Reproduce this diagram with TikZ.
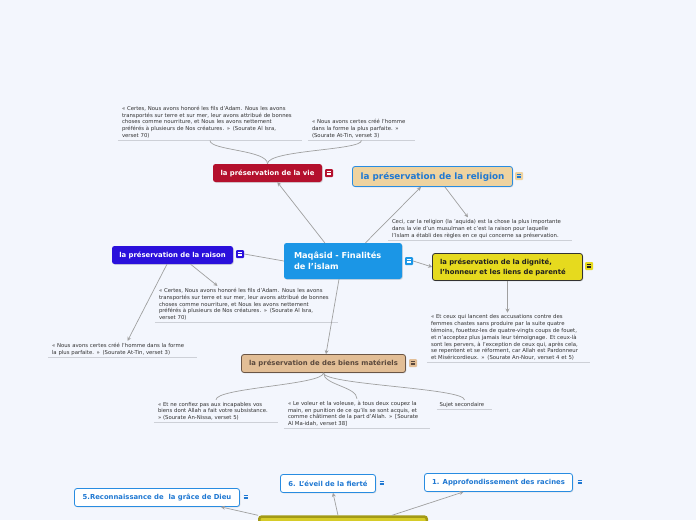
\documentclass[tikz,border=0pt]{standalone}
\usepackage{fontspec}
\setmainfont{DejaVu Sans}
\usetikzlibrary{arrows.meta,shadows}

\definecolor{bgc}{RGB}{243,246,253}
\definecolor{centralc}{RGB}{27,150,230}
\definecolor{viec}{RGB}{180,16,45}
\definecolor{religf}{RGB}{238,211,160}
\definecolor{blued}{RGB}{40,140,225}
\definecolor{bluet}{RGB}{31,120,210}
\definecolor{raisonc}{RGB}{42,16,220}
\definecolor{dignf}{RGB}{230,218,30}
\definecolor{darkc}{RGB}{50,50,50}
\definecolor{darkt}{RGB}{30,30,30}
\definecolor{biensf}{RGB}{226,190,150}
\definecolor{biensd}{RGB}{106,85,69}
\definecolor{bienst}{RGB}{90,72,60}
\definecolor{olivef}{RGB}{214,204,40}
\definecolor{olived}{RGB}{163,154,22}
\definecolor{linkc}{RGB}{160,160,160}
\definecolor{ulinec}{RGB}{205,208,215}
\definecolor{notec}{RGB}{48,48,48}

\tikzset{
  topic/.style={rounded corners=2.5pt, inner sep=0pt, font=\fontsize{6.85}{10}\selectfont\bfseries,
    drop shadow={shadow xshift=0.8pt, shadow yshift=-0.8pt, opacity=0.25}},
  sub/.style={fill=white, draw=blued, line width=0.8pt, text=bluet, minimum height=18pt},
  note/.style={anchor=south, inner xsep=4pt, inner ysep=2pt, align=left,
    font=\fontsize{5.35}{6.8}\selectfont, text=notec},
  link/.style={draw=linkc, line width=0.7pt, -{Stealth[length=4pt,width=4pt]}},
  plain/.style={draw=linkc, line width=0.7pt},
  uline/.style={draw=ulinec, line width=0.8pt},
  icon/.style={minimum size=8pt, inner sep=0pt, rounded corners=1pt},
}

% small menu icon: name, position, fill, line colour
\newcommand{\mnu}[4]{%
  \node[icon, fill=#3] (#1) at (#2) {};
  \foreach \k in {-1.8,0,1.8}
    \draw[#4, line width=0.7pt] ([shift={(-2.3pt,\k pt)}]#1.center) -- ([shift={(2.3pt,\k pt)}]#1.center);
}

\begin{document}
\begin{tikzpicture}[x=1pt,y=-1pt]
\fill[bgc] (0,0) rectangle (696,520);
\useasboundingbox (0,0) rectangle (696,520);

% central topic
\node[topic, fill=centralc, text=white, font=\fontsize{8.2}{11}\selectfont\bfseries,
  minimum height=36pt, text width=98pt, inner xsep=10pt, align=left] (central) at (343,261) {Maqâsid - Finalités\\de l'islam};

% main topics
\node[topic, fill=viec, text=white, minimum width=109pt, minimum height=18pt] (vie) at (267.5,173) {la préservation de la vie};
\node[topic, fill=religf, draw=blued, line width=0.8pt, text=bluet, font=\fontsize{8.8}{11}\selectfont\bfseries,
  minimum width=160pt, minimum height=20pt] (religion) at (432.5,176.5) {la préservation de la religion};
\node[topic, fill=raisonc, text=white, minimum width=121pt, minimum height=18pt] (raison) at (172.5,255) {la préservation de la raison};
\node[topic, fill=dignf, draw=darkc, line width=0.8pt, text=darkt, minimum height=27pt,
  text width=135pt, inner xsep=7.5pt, align=left] (dignite) at (507.5,267) {la préservation de la dignité,\\l'honneur et les liens de parenté};
\node[topic, fill=biensf, draw=biensd, line width=0.8pt, text=bienst, minimum width=164pt, minimum height=18pt] (biens) at (323.5,363.5) {la préservation de des biens matériels};

% bottom topics
\node[topic, fill=olivef, draw=olived, line width=2.5pt, minimum width=167.5pt, minimum height=30pt, anchor=north] (bottomn) at (343,515.3) {};
\node[topic, sub, minimum width=165pt] (reconn) at (157,497.5) {5.Reconnaissance de~ la grâce de Dieu};
\node[topic, sub, minimum width=95pt] (eveil) at (328,483.5) {6. L'éveil de la fierté};
\node[topic, sub, minimum width=148pt] (appro) at (498.5,482.5) {1. Approfondissement des racines};

% menu icons
\mnu{mcentral}{409,261}{centralc}{white}
\mnu{mvie}{329,173}{viec}{white}
\mnu{mreligion}{519,176}{religf}{bluet}
\mnu{mraison}{240,254}{raisonc}{white}
\mnu{mdignite}{589,266}{dignf}{darkt}
\mnu{mbiens}{413,363}{biensf}{bienst}
\mnu{mreconn}{246,497}{bgc}{bluet}
\mnu{meveil}{382,483}{bgc}{bluet}
\mnu{mappro}{580,482}{bgc}{bluet}

% notes
\node[note, text width=176pt] (n1) at (210,140.5) {« Certes, Nous avons honoré les fils d'Adam. Nous les avons\\transportés sur terre et sur mer, leur avons attribué de bonnes\\choses comme nourriture, et Nous les avons nettement\\préférés à plusieurs de Nos créatures. » (Sourate Al Isra,\\verset 70)};
\node[note, text width=99pt] (n2) at (361.5,140.5) {« Nous avons certes créé l'homme\\dans la forme la plus parfaite. »\\(Sourate At-Tin, verset 3)};
\node[note, text width=176pt] (n3) at (480,240.5) {Ceci, car la religion (la 'aquida) est la chose la plus importante\\dans la vie d'un musulman et c'est la raison pour laquelle\\l'Islam a établi des règles en ce qui concerne sa préservation.};
\node[note, text width=175pt] (n4) at (246.5,322.5) {« Certes, Nous avons honoré les fils d'Adam. Nous les avons\\transportés sur terre et sur mer, leur avons attribué de bonnes\\choses comme nourriture, et Nous les avons nettement\\préférés à plusieurs de Nos créatures. » (Sourate Al Isra,\\verset 70)};
\node[note, text width=141pt] (n5) at (122.5,357.5) {« Nous avons certes créé l'homme dans la forme\\la plus parfaite. » (Sourate At-Tin, verset 3)};
\node[note, text width=155pt] (n6) at (508.5,362.5) {« Et ceux qui lancent des accusations contre des\\femmes chastes sans produire par la suite quatre\\témoins, fouettez-les de quatre-vingts coups de fouet,\\et n'acceptez plus jamais leur témoignage. Et ceux-là\\sont les pervers, à l'exception de ceux qui, après cela,\\se repentent et se réforment, car Allah est Pardonneur\\et Miséricordieux. » (Sourate An-Nour, verset 4 et 5)};
\node[note, text width=116pt] (n7) at (216,422.5) {« Et ne confiez pas aux incapables vos\\biens dont Allah a fait votre subsistance.\\» (Sourate An-Nissa, verset 5)};
\node[note, text width=138pt] (n8) at (357,428.5) {« Le voleur et la voleuse, à tous deux coupez la\\main, en punition de ce qu'ils se sont acquis, et\\comme châtiment de la part d'Allah. » [Sourate\\Al Ma-idah, verset 38]};
\node[note, text width=50pt, inner xsep=2.5pt] (n9) at (464.5,409.5) {Sujet secondaire};
\foreach \i in {1,...,9}
  \draw[uline] (n\i.south west) -- (n\i.south east);

% branches from the central topic
\draw[link] (central.135) -- (vie.-43);
\draw[link] (central.39) -- (religion.222);
\draw[plain] (central.west) -- (mraison.east);
\draw[link] (mcentral.east) -- (dignite.west);
\draw[link] ([xshift=-4pt]central.south) -- ([xshift=2.5pt]biens.north);

% notes of the topics
\draw[plain] (vie.north) .. controls +(0,-14) and +(0,10) .. (n1.south);
\draw[plain] (vie.north) .. controls +(0,-14) and +(0,10) .. (n2.south);
\draw[link] (religion.-40) -- ([xshift=-12pt]n3.north);
\draw[link] (raison.-27) -- ([xshift=-29pt]n4.north);
\draw[link] (raison.-121) -- ([xshift=5pt]n5.north);
\draw[link] (dignite.south) -- (dignite.south |- n6.north);
\draw[plain] (biens.south) .. controls +(0,12) and +(0,-12) .. (n7.north);
\draw[plain] (biens.south) .. controls +(0,12) and +(0,-12) .. (n8.north);
\draw[plain] (biens.south) .. controls +(0,12) and +(0,-12) .. (n9.north);

% bottom branches
\draw[link] (bottomn.north west) -- ([xshift=64pt]reconn.south);
\draw[link] ([xshift=-5pt]bottomn.north) -- ([xshift=5pt]eveil.south);
\draw[link] ([xshift=49pt]bottomn.north) -- ([xshift=-35pt]appro.south);

\end{tikzpicture}
\end{document}
